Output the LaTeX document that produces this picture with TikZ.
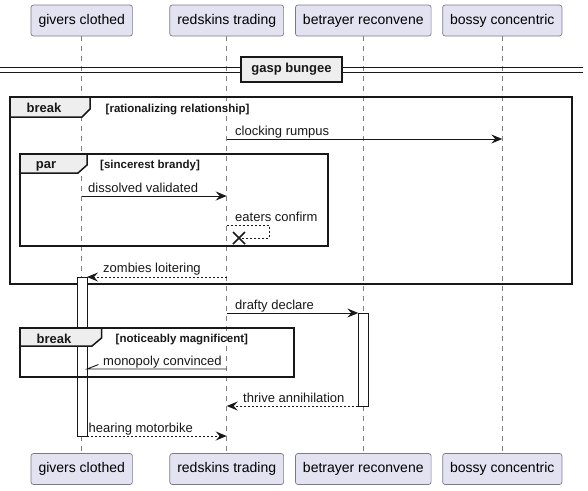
\documentclass[tikz,border=0pt]{standalone}
\usepackage{fontspec}
\setmainfont{Liberation Sans}
\usetikzlibrary{arrows.meta}
\definecolor{partfill}{HTML}{E2E2F0}
\definecolor{partline}{HTML}{7A7A8A}
\definecolor{lifegray}{HTML}{808080}
\definecolor{tabfill}{HTML}{EEEEEE}
\definecolor{ink}{HTML}{181818}
\begin{document}
\begin{tikzpicture}[x=1pt,y=-1pt,
  part/.style={draw=partline, fill=partfill, rounded corners=2.5pt, minimum height=31pt, inner xsep=7.5pt, font=\fontsize{14}{16}\selectfont, line width=0.7pt},
  lifeline/.style={draw=lifegray, dash pattern=on 5pt off 5pt, line width=0.8pt},
  msg/.style={draw=ink, line width=0.9pt, -{Stealth[length=11pt,width=9pt,inset=4pt]}},
  ret/.style={msg, dash pattern=on 2pt off 2pt},
  plainmsg/.style={draw=ink, line width=0.9pt},
  lbl/.style={font=\fontsize{13}{15}\selectfont, inner sep=0pt, anchor=base west, text=ink},
  framebox/.style={draw=ink, line width=1.5pt},
  tabbox/.style={draw=ink, line width=1.5pt, fill=tabfill},
  ftitle/.style={font=\bfseries\fontsize{13}{15}\selectfont, inner sep=0pt, anchor=base, text=ink},
  fcond/.style={font=\bfseries\fontsize{11.5}{13}\selectfont, inner sep=0pt, anchor=base west, text=ink},
  actbox/.style={draw=ink, fill=white, line width=0.9pt},
]
\useasboundingbox (0,0) rectangle (588,490);

% participants
\node[part] (gT) at (81.7,20.5) {givers clothed};
\node[part] (rT) at (226.7,20.5) {redskins trading};
\node[part] (bT) at (363.3,20.5) {betrayer reconvene};
\node[part] (sT) at (502.3,20.5) {bossy concentric};
\node[part] (gB) at (81.7,469) {givers clothed};
\node[part] (rB) at (226.7,469) {redskins trading};
\node[part] (bB) at (363.3,469) {betrayer reconvene};
\node[part] (sB) at (502.3,469) {bossy concentric};

% lifelines
\draw[lifeline] (gT.south) -- (gB.north);
\draw[lifeline] (rT.south) -- (rB.north);
\draw[lifeline] (bT.south) -- (bB.north);
\draw[lifeline] (sT.south) -- (sB.north);

% divider
\draw[draw=ink, line width=1pt] (0,67) -- (583,67) (0,72) -- (583,72);
\node[draw=ink, fill=tabfill, line width=1.3pt, minimum width=101pt, minimum height=25pt, inner sep=0pt, font=\bfseries\fontsize{13}{15}\selectfont, text=ink] (div) at (291.5,69.5) {gasp bungee};

% frame 1: break
\draw[framebox] (10,97) rectangle (572,284);
\draw[tabbox] (10,97) -- (90,97) -- (90,109) -- (82,117) -- (10,117) -- cycle;
\node[ftitle] (f1t) at (44,112.5) {break};
\node[fcond] (f1c) at (105.5,112) {[rationalizing relationship]};

\coordinate (m1s) at (226.7,139);
\coordinate (m1e) at (502.3,139);
\draw[msg] (m1s) -- (m1e);
\node[lbl] (m1l) at (235,135) {clocking rumpus};

% frame 2: par
\draw[framebox] (20,154) rectangle (328,246);
\draw[tabbox] (20,154) -- (87,154) -- (87,165) -- (78,173) -- (20,173) -- cycle;
\node[ftitle] (f2t) at (46,168.5) {par};
\node[fcond] (f2c) at (100,168) {[sincerest brandy]};

\coordinate (m2s) at (81.7,196);
\coordinate (m2e) at (226.7,196);
\draw[msg] (m2s) -- (m2e);
\node[lbl] (m2l) at (88,192) {dissolved validated};

\coordinate (m3s) at (226.7,225);
\coordinate (m3a) at (269,225);
\coordinate (m3b) at (269,238);
\coordinate (m3e) at (239,238);
\draw[draw=ink, line width=0.9pt, dash pattern=on 2pt off 2pt] (m3s) -- (m3a) -- (m3b) -- (m3e);
\draw[draw=ink, line width=1.6pt] ([shift={(-6,-6)}]m3e) -- ([shift={(6,6)}]m3e) ([shift={(-6,6)}]m3e) -- ([shift={(6,-6)}]m3e);
\node[lbl] (m3l) at (235,221) {eaters confirm};

% activation on givers clothed
\draw[actbox] (77,277) rectangle (87,436);

\coordinate (m4s) at (226.7,277);
\coordinate (m4e) at (87,277);
\draw[ret] (m4s) -- (m4e);
\node[lbl] (m4l) at (103,272.5) {zombies loitering};

% activation on betrayer reconvene
\draw[actbox] (358.3,313) rectangle (368.3,406);

\coordinate (m5s) at (226.7,313);
\coordinate (m5e) at (358.3,313);
\draw[msg] (m5s) -- (m5e);
\node[lbl] (m5l) at (235,309) {drafty declare};

% frame 3: break
\draw[framebox] (20,328) rectangle (294,377);
\draw[tabbox] (20,328) -- (101.5,328) -- (101.5,338) -- (92,346) -- (20,346) -- cycle;
\node[ftitle] (f3t) at (54,343) {break};
\node[fcond] (f3c) at (115.5,342.5) {[noticeably magnificent]};

\coordinate (m6s) at (226.7,369);
\coordinate (m6e) at (87,369);
\draw[plainmsg] (m6s) -- (m6e) -- ++(11.5,-4.5);
\node[lbl] (m6l) at (103,365) {monopoly convinced};

\coordinate (m7s) at (358.3,406);
\coordinate (m7e) at (226.7,406);
\draw[ret] (m7s) -- (m7e);
\node[lbl] (m7l) at (243,402) {thrive annihilation};

\coordinate (m8s) at (87,436);
\coordinate (m8e) at (226.7,436);
\draw[ret] (m8s) -- (m8e);
\node[lbl] (m8l) at (88.5,432) {hearing motorbike};
\end{tikzpicture}
\end{document}
